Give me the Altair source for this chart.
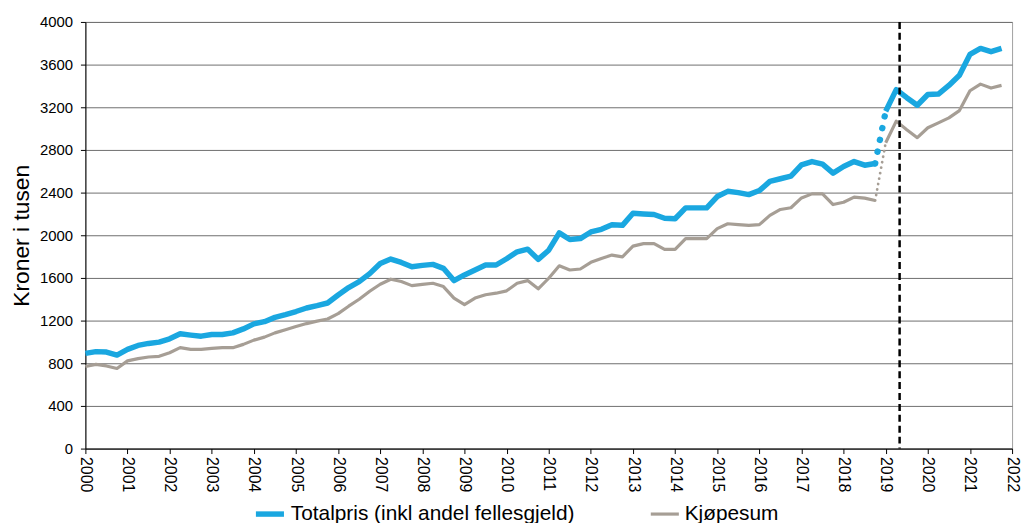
import altair as alt
import pandas as pd

# Quarterly values, 2000 Q1 - 2018 Q4 (old series)
total_old = [893, 909, 905, 877,
             930, 967, 986, 998,
             1029, 1076, 1064, 1054,
             1070, 1070, 1085, 1122,
             1169, 1190, 1230, 1256,
             1285, 1318, 1340, 1365,
             1440, 1510, 1565, 1640,
             1736, 1777, 1745, 1705,
             1718, 1727, 1690, 1575,
             1628, 1675, 1721, 1721,
             1780, 1845, 1870, 1774,
             1860, 2022, 1960, 1969,
             2031, 2056, 2099, 2093,
             2207, 2200, 2195, 2160,
             2155, 2257, 2257, 2257,
             2363, 2412, 2400, 2381,
             2419, 2505, 2530, 2555,
             2660, 2691, 2667, 2583,
             2645, 2691, 2657, 2673]
kjop_old = [769, 790, 775, 751,
            822, 843, 859, 865,
            899, 946, 930, 930,
            940, 946, 946, 977,
            1017, 1045, 1085, 1115,
            1145, 1172, 1195, 1215,
            1265, 1335, 1400, 1475,
            1541, 1588, 1566, 1528,
            1540, 1550, 1519, 1411,
            1349, 1411, 1442, 1457,
            1479, 1550, 1575, 1498,
            1597, 1714, 1674, 1684,
            1746, 1783, 1814, 1798,
            1898, 1922, 1922, 1867,
            1867, 1969, 1969, 1969,
            2062, 2108, 2100, 2093,
            2100, 2186, 2242, 2258,
            2350, 2388, 2388, 2288,
            2310, 2357, 2348, 2326]
# New series, 2019 Q1 - 2021 Q4
total_new = [3163, 3365, 3290, 3219, 3320, 3324, 3405, 3500, 3696, 3752, 3721, 3752]
kjop_new = [2868, 3070, 2990, 2915, 3008, 3054, 3101, 3169, 3355, 3417, 3380, 3405]

series_names = ["Totalpris (inkl andel fellesgjeld)", "Kjøpesum"]
y_ticks = list(range(0, 4001, 400))
break_year = 2019.33

BLUE = "#1AA7E0"
GRAY = "#A69E95"
FONT = "Liberation Sans"

rows = []
for name, old, new in [(series_names[0], total_old, total_new), (series_names[1], kjop_old, kjop_new)]:
    for i, v in enumerate(old):
        rows.append({"t": 2000 + i / 4, "v": v, "serie": name, "seg": "old"})
    for i, v in enumerate(new):
        rows.append({"t": 2019 + i / 4, "v": v, "serie": name, "seg": "new"})
df = pd.DataFrame(rows)

conn_blue = pd.DataFrame({"t": [2018.75, 2019.0], "v": [total_old[-1], total_new[0]]})
conn_gray = pd.DataFrame({"t": [2018.75, 2019.0], "v": [kjop_old[-1], kjop_new[0]]})

quarters = [2000 + i / 4 for i in range(0, 22 * 4 + 1)]

xenc = alt.X("t:Q", scale=alt.Scale(domain=[2000, 2022], nice=False, zero=False),
             axis=alt.Axis(values=quarters,
                           labelExpr="datum.value % 1 == 0 ? format(datum.value, 'd') : ''",
                           labelAngle=90, labelAlign="left", labelBaseline="middle",
                           labelFontSize=16, labelColor="black", labelPadding=3,
                           labelOverlap=False, labelFlush=False,
                           tickSize=5, tickColor="black", domainColor="black",
                           grid=False, title=None))
yenc = alt.Y("v:Q", scale=alt.Scale(domain=[0, 4000], nice=False),
             axis=alt.Axis(values=y_ticks, format="d", title="Kroner i tusen", titleFontSize=23,
                           titleFontWeight="normal", titleColor="black", titlePadding=6,
                           labelFontSize=15, labelColor="black", labelPadding=8,
                           tickSize=5, tickColor="black", domainColor="black",
                           grid=True, gridColor="#6e6e6e", gridWidth=1))

leg = alt.Legend(orient="none", legendX=169, legendY=479, direction="horizontal",
                 title=None, symbolType="stroke", symbolSize=800,
                 labelFontSize=21, labelColor="black", columnPadding=70, labelLimit=0,
                 labelOffset=4)

lines = alt.Chart(df).mark_line(strokeJoin="round", strokeCap="butt").encode(
    x=xenc, y=yenc,
    color=alt.Color("serie:N", scale=alt.Scale(domain=series_names, range=[BLUE, GRAY]), legend=leg),
    strokeWidth=alt.StrokeWidth("serie:N", scale=alt.Scale(domain=series_names, range=[5.5, 3.2]), legend=leg),
    detail="seg:N",
)

dots_blue = alt.Chart(conn_blue).mark_line(color=BLUE, strokeWidth=6.5, strokeCap="round",
                                            strokeDash=[0.1, 12]).encode(x="t:Q", y="v:Q")
dots_gray = alt.Chart(conn_gray).mark_line(color=GRAY, strokeWidth=2.8, strokeCap="round",
                                            strokeDash=[0.1, 5.5]).encode(x="t:Q", y="v:Q")

vline = alt.Chart(pd.DataFrame({"t": [break_year]})).mark_rule(
    color="black", strokeWidth=2.5, strokeDash=[7, 4]).encode(x="t:Q")

chart = alt.layer(lines, dots_blue, dots_gray, vline).properties(
    width=934, height=430,
    autosize=alt.AutoSizeParams(type="none"),
    padding={"left": 78, "top": 12, "right": 10, "bottom": 80},
).configure_view(stroke="#a0a0a0", strokeWidth=1).configure_axis(
    labelFont=FONT, titleFont=FONT
).configure_legend(labelFont=FONT)

chart.save("out.html", embed_options={"renderer": "svg", "actions": False})
